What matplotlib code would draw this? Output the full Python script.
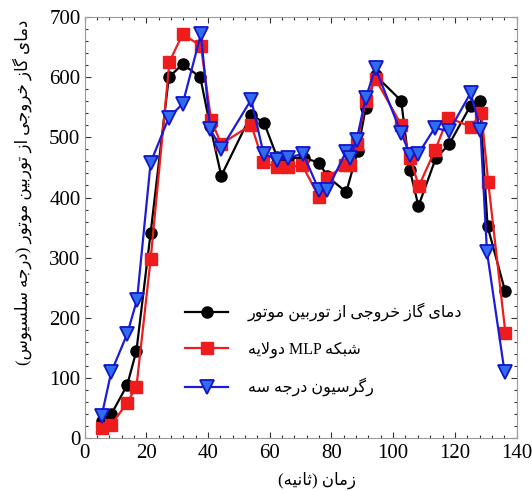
import re
import matplotlib
matplotlib.use('Agg')
import matplotlib.pyplot as plt
from matplotlib.ticker import MultipleLocator

# measured exhaust gas temperature
t_meas = [5.7, 8.7, 13.8, 16.8, 21.4, 27.3, 31.8, 37.5, 40.7, 44.3, 54.0, 58.2, 62.4, 66.0, 71.0,
          76.0, 78.7, 84.8, 88.5, 91.1, 94.3, 102.6, 105.4, 108.2, 113.8, 118.2, 125.1, 128.1, 130.6, 136.3]
y_meas = [28, 40, 88, 145, 341, 600, 622, 600, 519, 436, 538, 524, 467, 466, 466,
          458, 435, 409, 477, 549, 603, 561, 446, 386, 465, 489, 553, 560, 352, 244]

# two-layer MLP
t_mlp = [5.8, 8.7, 13.8, 16.8, 21.4, 27.5, 31.8, 37.7, 41.0, 44.3, 54.0, 57.9, 62.4, 66.0, 70.5, 76.0,
         78.7, 84.4, 86.0, 88.2, 91.1, 94.3, 102.6, 105.5, 108.3, 113.6, 117.8, 125.1, 128.6, 130.8, 136.4]
y_mlp = [16, 22, 59, 85, 297, 626, 672, 652, 529, 489, 521, 459, 450, 450, 454, 401,
         433, 454, 454, 489, 561, 597, 521, 466, 419, 479, 533, 518, 540, 426, 174]

# cubic regression
t_reg = [5.5, 8.6, 13.8, 17.0, 21.4, 27.3, 31.8, 37.7, 40.7, 44.3, 54.0, 58.0, 62.4, 66.0, 70.8, 76.0,
         78.7, 84.6, 86.0, 88.2, 91.1, 94.3, 102.6, 105.5, 108.2, 113.5, 118.1, 125.1, 128.3, 130.4, 136.1]
y_reg = [36, 109, 173, 230, 458, 533, 556, 672, 514, 481, 563, 473, 463, 466, 473, 412,
         413, 475, 465, 496, 566, 615, 507, 471, 473, 516, 510, 574, 513, 310, 110]

labels = ['دمای گاز خروجی از توربین موتور', 'شبکه MLP دولایه', 'رگرسیون درجه سه']
xlabel = 'زمان (ثانیه)'
ylabel = 'دمای گاز خروجی از توربین موتور (درجه سلسیوس)'

# presentation forms: isolated, final, initial, medial
FORMS = {
    'ا': ('\uFE8D', '\uFE8E', None, None),
    'ب': ('\uFE8F', '\uFE90', '\uFE91', '\uFE92'),
    'ت': ('\uFE95', '\uFE96', '\uFE97', '\uFE98'),
    'ث': ('\uFE99', '\uFE9A', '\uFE9B', '\uFE9C'),
    'ج': ('\uFE9D', '\uFE9E', '\uFE9F', '\uFEA0'),
    'خ': ('\uFEA5', '\uFEA6', '\uFEA7', '\uFEA8'),
    'د': ('\uFEA9', '\uFEAA', None, None),
    'ر': ('\uFEAD', '\uFEAE', None, None),
    'ز': ('\uFEAF', '\uFEB0', None, None),
    'س': ('\uFEB1', '\uFEB2', '\uFEB3', '\uFEB4'),
    'ش': ('\uFEB5', '\uFEB6', '\uFEB7', '\uFEB8'),
    'ل': ('\uFEDD', '\uFEDE', '\uFEDF', '\uFEE0'),
    'م': ('\uFEE1', '\uFEE2', '\uFEE3', '\uFEE4'),
    'ن': ('\uFEE5', '\uFEE6', '\uFEE7', '\uFEE8'),
    'ه': ('\uFEE9', '\uFEEA', '\uFEEB', '\uFEEC'),
    'و': ('\uFEED', '\uFEEE', None, None),
    'ی': ('\uFBFC', '\uFBFD', '\uFBFE', '\uFBFF'),
    'ک': ('\uFB8E', '\uFB8F', '\uFB90', '\uFB91'),
    'گ': ('\uFB92', '\uFB93', '\uFB94', '\uFB95'),
}


def fa(text):
    # join letters, then lay the line out right to left
    out = []
    i = 0
    n = len(text)
    while i < n:
        c = text[i]
        if c not in FORMS:
            out.append(c)
            i += 1
            continue
        prev = text[i - 1] if i > 0 else ''
        join_prev = prev in FORMS and FORMS[prev][2] is not None
        nxt = text[i + 1] if i + 1 < n else ''
        if c == 'ل' and nxt == 'ا':
            out.append('\uFEFC' if join_prev else '\uFEFB')
            i += 2
            continue
        join_next = FORMS[c][2] is not None and nxt in FORMS
        f = FORMS[c]
        if join_prev and join_next:
            out.append(f[3])
        elif join_prev:
            out.append(f[1])
        elif join_next:
            out.append(f[2])
        else:
            out.append(f[0])
        i += 1
    s = ''.join(out)[::-1]
    s = re.sub(r'[A-Za-z0-9]+', lambda m: m.group(0)[::-1], s)
    s = s.translate(str.maketrans('()', ')('))
    return s


fam = ['Liberation Serif', 'DejaVu Sans']
plt.rcParams['font.family'] = fam

fig = plt.figure(figsize=(5.32, 4.91), dpi=100)
ax = fig.add_axes([0.159, 0.108, 0.812, 0.857])

ax.plot(t_meas, y_meas, '-o', color='black', lw=1.6, ms=8, label=fa(labels[0]))
ax.plot(t_mlp, y_mlp, '-s', color='#ee1c1c', lw=1.6, ms=8, label=fa(labels[1]))
ax.plot(t_reg, y_reg, '-v', color='#1c1cd8', mfc='#2f6cf0', mec='#1414c8', mew=1.3,
        lw=1.6, ms=9.5, label=fa(labels[2]))

ax.set_xlim(0, 140)
ax.set_ylim(0, 700)
ax.xaxis.set_major_locator(MultipleLocator(20))
ax.xaxis.set_minor_locator(MultipleLocator(4))
ax.yaxis.set_major_locator(MultipleLocator(100))
ax.yaxis.set_minor_locator(MultipleLocator(20))
ax.tick_params(which='both', direction='in', top=True, right=True, color='#333333')
ax.tick_params(which='major', length=4, width=0.8, labelsize=15)
ax.tick_params(which='minor', length=2, width=0.8)
ax.tick_params(axis='x', pad=4)
ax.tick_params(axis='y', pad=3)
for sp in ax.spines.values():
    sp.set_color('#999999')

leg = ax.legend(loc='center left', bbox_to_anchor=(0.233, 0.21), frameon=False,
                prop={'family': fam, 'size': 11.5}, labelspacing=1.25,
                handlelength=2.7, handletextpad=1.2, borderpad=0, borderaxespad=0)

fig.text(0.596, 0.022, fa(xlabel), ha='center', va='center', fontsize=12)
fig.text(0.041, 0.609, fa(ylabel), ha='center', va='center', rotation=90, fontsize=12)

fig.savefig('out.png', dpi=100)
